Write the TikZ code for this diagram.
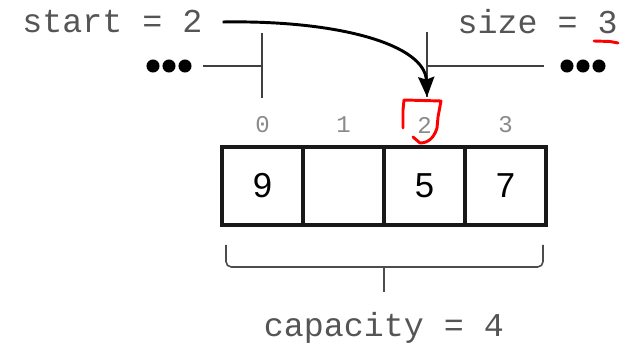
\documentclass[tikz,border=0pt]{standalone}
\usepackage{fontspec}
\setmainfont{Liberation Sans}
\setmonofont{Liberation Mono}
\usetikzlibrary{arrows.meta}
\definecolor{ink}{HTML}{555555}
\definecolor{faint}{HTML}{8A8A8A}
\definecolor{pen}{HTML}{FF0000}

\begin{document}
\begin{tikzpicture}[x=0.75pt,y=-0.75pt,
cell/.style={draw=black!90,line width=2.6pt,minimum width=60.75pt,minimum height=58.5pt,inner sep=0pt,font=\fontsize{26}{26}\selectfont},
idx/.style={text=faint,font=\ttfamily\fontsize{18}{18}\selectfont,inner sep=0pt},
lbl/.style={text=ink,font=\ttfamily\fontsize{25}{25}\selectfont,inner sep=0pt},
marker/.style={draw=black!75,line width=1.2pt},
dot/.style={fill=black,circle,inner sep=0pt,minimum size=9.8pt},
arr/.style={-{Stealth[length=15pt,width=12pt,inset=2pt]},line width=2.2pt},
penmark/.style={draw=pen,line width=2.2pt,line cap=round,line join=round}]
\useasboundingbox (0,0) rectangle (639,348);
% array cells and their indices
\foreach \i/\v in {0/9,1/,2/5,3/7}{
  \node[cell] (c\i) at (262.5+81*\i,186) {\v};
  \node[idx] (i\i) at (262.5+81*\i,125) {\i};
}
% start pointer
\node[lbl,anchor=west] (start) at (22,22) {start = 2};
\coordinate (ltop) at (262,33);
\coordinate (lbot) at (262,98);
\foreach \k in {0,1,2}{\node[dot] (ld\k) at (153+16*\k,66) {};}
\coordinate (lend) at (203,66);
\draw[marker] (ltop) -- (lbot);
\draw[marker] (lend) -- (lend -| ltop);
% size marker
\node[lbl,anchor=east] (size) at (618,22) {size = 3};
\coordinate (rtop) at (427,32);
\coordinate (rbot) at (427,97);
\foreach \k in {0,1,2}{\node[dot] (rd\k) at (567+16*\k,66) {};}
\coordinate (rend) at (544,66);
\draw[marker] (rtop) -- (rbot);
\draw[marker] (rend) -- (rend -| rtop);
\draw[arr] ([xshift=15pt]start.east) .. controls (340,20) and (425,45) .. (rbot);
% capacity brace
\node[lbl] (cap) at (384,328) {capacity = 4};
\coordinate (bmid) at (384,267);
\draw[marker,draw=black!70,rounded corners=4pt] (226,245) |- (bmid);
\draw[marker,draw=black!70,rounded corners=4pt] (543,245) |- (bmid);
\draw[marker,draw=black!70] (bmid) -- (384,292);
% red pen marks
\draw[penmark] (594,41) -- (610,41.5) -- (618,43);
\draw[penmark] (403,128) -- (403,110) -- (404,100) -- (441,101) -- (438,117) -- (437,128)
  .. controls (434,138) and (428,143) .. (420,143) -- (413,137);
\end{tikzpicture}
\end{document}
